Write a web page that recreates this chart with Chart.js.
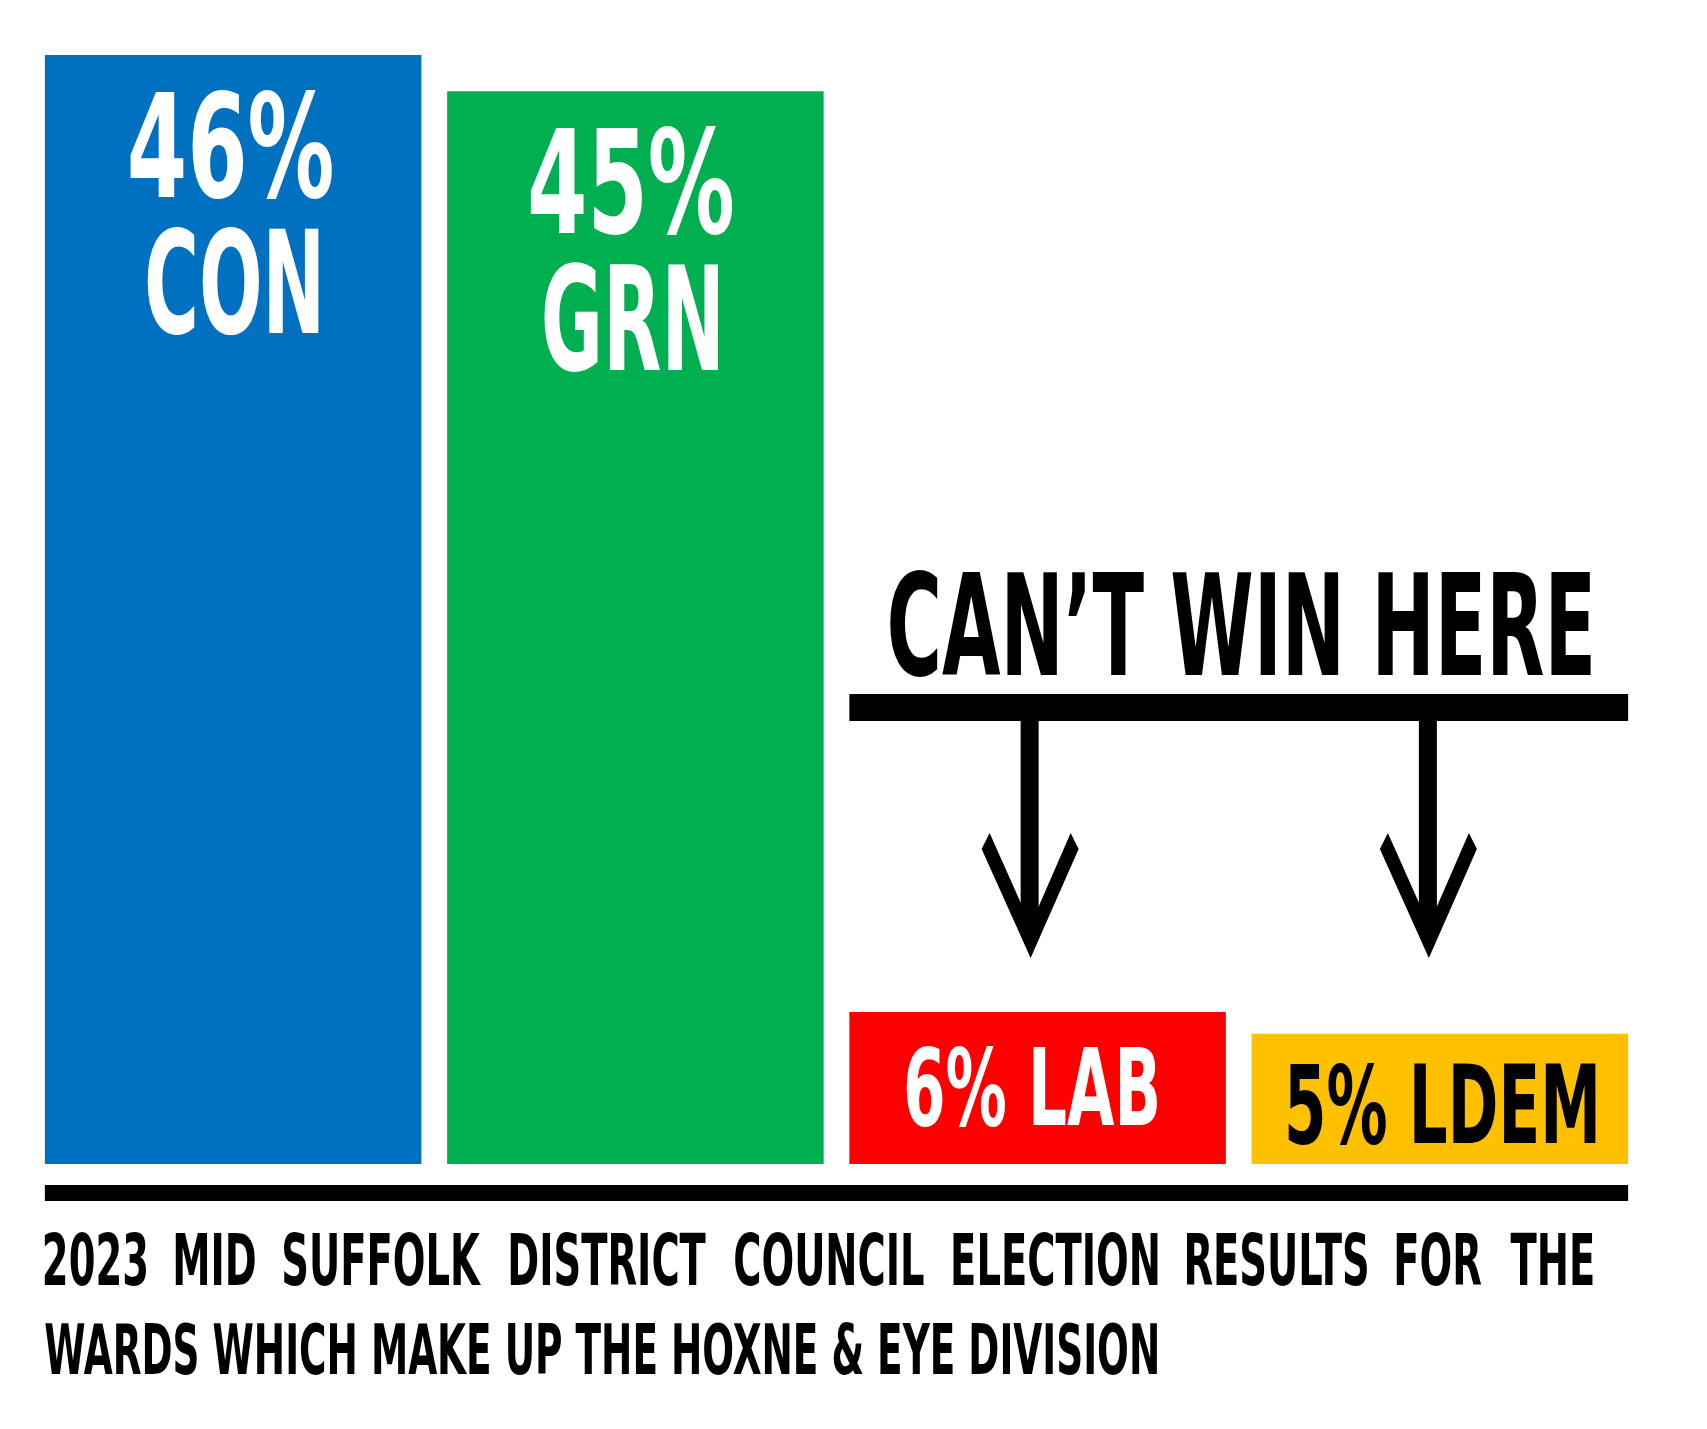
<!DOCTYPE html>
<html>
<head>
<meta charset="utf-8">
<script src="https://cdn.jsdelivr.net/npm/chart.js@4.4.1/dist/chart.umd.min.js"></script>
<style>
  html, body { margin: 0; padding: 0; background: #fff; }
  #wrap { width: 1707px; height: 1429px; }
</style>
</head>
<body>
<div id="wrap"><canvas id="resultsChart" width="1707" height="1429"></canvas></div>
<script>
// data
const parties = ['CON', 'GRN', 'LAB', 'LDEM'];
const barValues = [46, 44.5, 6.3, 5.4];
const shareLabels = ['46%', '45%', '6%', '5%'];
const barColours = ['#0070C0', '#00B050', '#FF0000', '#FFC000'];
const labelColours = ['#ffffff', '#ffffff', '#ffffff', '#000000'];
const headline = 'CAN\u2019T WIN HERE';
const titleLines = [
  '2023 MID SUFFOLK DISTRICT COUNCIL ELECTION RESULTS FOR THE',
  'WARDS WHICH MAKE UP THE HOXNE & EYE DIVISION'
];

const FONT = '"DejaVu Sans Condensed", "DejaVu Sans", sans-serif';

// draw text squeezed into a box (cap top / cap height / ink width)
function inkWidth(ctx, text, size) {
  ctx.font = 'bold ' + size + 'px ' + FONT;
  const m = ctx.measureText(text);
  return { w: m.actualBoundingBoxLeft + m.actualBoundingBoxRight, left: m.actualBoundingBoxLeft };
}
function capSize(ctx, capH) {
  ctx.font = 'bold 100px ' + FONT;
  const r = ctx.measureText('H').actualBoundingBoxAscent / 100;
  return capH / r;
}
function fitText(ctx, text, x, capTop, capH, width, colour, align) {
  ctx.save();
  const size = capSize(ctx, capH);
  const ink = inkWidth(ctx, text, size);
  const sx = width / ink.w;
  const left = align === 'center' ? x - width / 2 : x;
  ctx.translate(left, capTop + capH);
  ctx.scale(sx, 1);
  ctx.fillStyle = colour;
  ctx.textAlign = 'left';
  ctx.textBaseline = 'alphabetic';
  ctx.fillText(text, ink.left, 0);
  ctx.restore();
}

function drawArrow(ctx, cx, top) {
  const shaftW = 18;
  ctx.fillStyle = '#000';
  ctx.fillRect(cx - shaftW / 2, top, shaftW, 925 - top);
  ctx.beginPath();
  ctx.moveTo(cx - 40, 833);
  ctx.lineTo(cx - 48, 849);
  ctx.lineTo(cx + 1, 958);
  ctx.lineTo(cx + 49, 849);
  ctx.lineTo(cx + 41, 833);
  ctx.lineTo(cx + 1, 925);
  ctx.closePath();
  ctx.fill();
}

const overlay = {
  id: 'overlay',
  afterDatasetsDraw(chart) {
    const ctx = chart.ctx;
    const bars = chart.getDatasetMeta(0).data;

    // labels inside the bars
    fitText(ctx, shareLabels[0], bars[0].x - 2, bars[0].y + 37, 105, 202, labelColours[0], 'center');
    fitText(ctx, parties[0], bars[0].x, bars[0].y + 174, 104, 171, labelColours[0], 'center');
    fitText(ctx, shareLabels[1], bars[1].x - 4, bars[1].y + 37, 105, 202, labelColours[1], 'center');
    fitText(ctx, parties[1], bars[1].x - 4, bars[1].y + 174, 105, 174, labelColours[1], 'center');
    fitText(ctx, shareLabels[2] + ' ' + parties[2], bars[2].x - 6, bars[2].y + 35, 78, 251, labelColours[2], 'center');
    fitText(ctx, shareLabels[3] + ' ' + parties[3], bars[3].x + 2, bars[3].y + 30, 79, 307, labelColours[3], 'center');

    // "can't win here" bracket
    const l = bars[2].x - bars[2].width / 2;
    const r = bars[3].x + bars[3].width / 2;
    fitText(ctx, headline, 890, 572, 103, 701, '#000', 'left');
    ctx.fillStyle = '#000';
    ctx.fillRect(l, 694, r - l, 27);
    drawArrow(ctx, bars[2].x - 8, 720);
    drawArrow(ctx, bars[3].x - 12, 720);

    // baseline rule
    const bl = bars[0].x - bars[0].width / 2;
    ctx.fillRect(bl, 1185, r - bl, 16);

    // title, first line justified with fixed word gaps
    const size = capSize(ctx, 52);
    const words = titleLines[0].split(' ');
    const raw = words.map(w => inkWidth(ctx, w, size).w);
    const gap = 29;
    const sx1 = (1593 - bl - gap * (words.length - 1)) / raw.reduce((a, b) => a + b, 0);
    let x = bl;
    words.forEach((w, i) => {
      fitText(ctx, w, x, 1233, 52, raw[i] * sx1, '#000', 'left');
      x += raw[i] * sx1 + gap;
    });
    fitText(ctx, titleLines[1], bl, 1323, 51, 1112, '#000', 'left');
  }
};

new Chart(document.getElementById('resultsChart'), {
  type: 'bar',
  data: {
    labels: parties,
    datasets: [{
      data: barValues,
      backgroundColor: barColours,
      borderWidth: 0,
      barPercentage: 0.936,
      categoryPercentage: 1
    }]
  },
  options: {
    responsive: false,
    animation: false,
    layout: { padding: { top: 55, bottom: 265, left: 32, right: 66 } },
    scales: {
      x: { display: false },
      y: { display: false, min: 0, max: 46 }
    },
    plugins: {
      legend: { display: false },
      tooltip: { enabled: false }
    }
  },
  plugins: [overlay]
});
</script>
</body>
</html>
